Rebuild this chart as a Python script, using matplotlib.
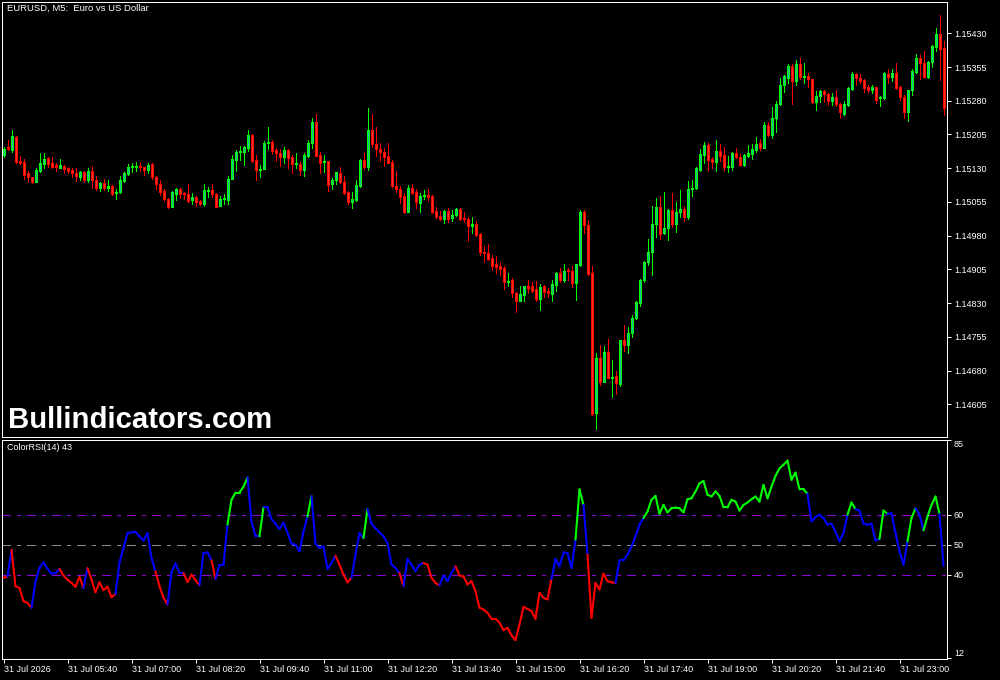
import numpy as np
import matplotlib
matplotlib.use("Agg")
import matplotlib.pyplot as plt
from matplotlib.collections import LineCollection

# ---------------- data (EURUSD M5, 31 Jul, bars from 04:20) ----------------
# prices given in points relative to 1.15000 (1 point = 0.00001)
base_price = 1.15000
opens = [159,178,170,200,146,143,119,110,100,123,139,152,141,137,131,136,131,126,120,111,
         122,104,124,103,87,98,87,90,74,76,102,117,132,133,136,132,127,139,111,95,
         79,62,44,73,84,74,73,59,67,57,50,79,82,72,47,61,59,106,148,165,
         165,176,204,148,127,128,187,188,170,163,156,170,156,139,139,126,158,185,232,159,
         143,146,94,104,119,100,76,54,59,91,148,133,215,184,173,165,157,144,90,84,
         69,33,87,76,53,69,70,68,35,24,17,35,19,27,39,19,16,2,7,-17,
         -56,-59,-69,-83,-87,-93,-122,-119,-147,-165,-152,-132,-133,-139,-161,-133,-142,-150,-130,-104,
         -119,-96,-99,-125,-85,32,4,-104,-415,-291,-345,-279,-336,-332,-350,-252,-263,-237,-204,-169,
         -119,-79,-57,5,44,-15,-2,37,6,32,39,22,83,85,127,159,182,150,144,168,
         159,133,133,163,154,137,158,162,170,185,176,226,204,241,272,315,331,357,324,361,
         332,335,328,278,291,302,295,280,288,272,251,271,306,339,331,326,311,304,310,287,
         287,339,332,342,311,289,256,304,345,376,365,332,367,400,428,397]
highs = [178,193,215,202,157,150,124,111,130,163,163,154,154,142,150,138,133,130,130,123,
         123,130,135,113,100,107,104,93,83,113,122,139,141,143,143,133,141,142,113,104,
         84,64,79,85,85,78,95,74,69,59,95,89,96,74,68,73,113,159,170,179,
         179,216,205,159,137,190,222,193,174,172,178,172,159,163,143,163,193,242,250,165,
         159,146,109,122,132,113,79,76,104,150,163,265,250,222,185,174,185,148,124,91,
         74,93,95,84,74,82,84,70,44,35,37,42,37,42,41,32,21,21,13,-15,
         -44,-39,-63,-65,-79,-87,-104,-115,-145,-132,-131,-119,-124,-121,-128,-130,-137,-119,-100,-93,
         -82,-91,-87,-82,37,37,15,-87,-282,-263,-265,-250,-297,-321,-251,-219,-222,-196,-165,-117,
         -76,-27,46,63,68,76,39,74,54,82,47,102,104,132,172,188,185,154,193,184,
         178,158,165,176,162,162,182,184,200,194,232,232,267,280,331,337,361,362,371,374,
         363,341,329,302,305,305,297,297,304,274,279,311,345,341,339,328,315,315,311,291,
         343,350,351,363,313,293,305,351,384,382,391,369,403,441,471,413]
lows = [156,170,165,142,139,107,100,98,99,122,131,133,131,124,130,120,120,111,102,104,
        100,100,87,82,80,82,80,70,61,74,100,115,122,124,124,115,119,107,83,70,
        56,42,44,59,63,61,54,50,47,48,47,67,67,43,46,50,50,106,124,148,
        137,169,143,104,111,128,173,162,146,136,142,131,120,131,115,113,154,176,157,119,
        122,80,83,94,98,73,50,42,58,89,128,126,178,158,146,136,141,89,78,52,
        30,32,73,42,33,61,58,30,20,15,9,11,13,24,15,11,-31,-15,-20,-62,
        -78,-74,-96,-104,-107,-139,-132,-156,-189,-165,-165,-147,-145,-165,-185,-156,-157,-165,-142,-122,
        -124,-119,-135,-163,-87,-15,-107,-419,-450,-352,-346,-337,-378,-371,-354,-276,-280,-245,-205,-176,
        -122,-85,-107,-24,-27,-17,-30,0,-11,22,13,18,68,83,124,141,126,131,124,146,
        126,122,126,152,136,136,156,150,165,170,174,202,198,211,271,300,319,273,316,328,
        319,310,276,259,278,278,271,271,269,242,248,269,305,316,319,300,299,298,276,268,
        285,320,324,306,282,242,235,293,342,328,330,331,356,391,326,248]
closes = [173,172,202,144,141,115,111,100,126,141,150,139,133,133,137,129,124,119,113,122,
          104,124,104,85,98,87,91,73,78,104,120,133,136,136,132,126,137,111,94,78,
          61,44,76,84,72,72,57,67,54,51,82,82,72,44,61,64,107,150,167,167,
          178,204,146,126,128,185,188,169,163,156,170,153,139,140,127,159,185,232,158,142,
          144,93,104,121,100,74,54,61,93,148,133,215,183,173,165,156,142,91,83,67,
          33,87,74,54,69,70,67,33,22,17,35,17,27,39,17,17,2,7,-19,-57,
          -59,-72,-87,-89,-95,-122,-120,-148,-165,-150,-132,-136,-142,-161,-135,-145,-148,-128,-102,-119,
          -99,-99,-125,-83,32,4,-105,-417,-293,-345,-279,-336,-334,-348,-252,-263,-237,-202,-168,-119,
          -78,-57,5,44,-17,-2,37,6,32,39,22,84,87,130,162,182,148,144,168,158,
          133,136,163,154,137,159,163,173,184,176,226,204,242,272,316,334,357,325,361,332,
          334,328,278,291,302,294,280,288,272,254,272,309,339,330,324,309,304,310,282,289,
          342,332,341,309,288,256,304,346,374,363,332,367,402,428,395,265]

# ColorRSI(14) values per bar
rsi = [38.9,39.4,48.3,36.1,35.5,31.1,30.5,28.9,37.8,42.2,44.1,41.9,40.3,40.5,41.9,39.7,38.3,37.2,35.9,39.2,
       35.5,42.2,38.3,34.1,37.4,34.8,35.9,32.4,33.5,44.1,48.9,53.9,54.1,54.1,52.8,51.4,53.9,45.5,41.1,36.1,
       32.2,30.0,40.8,43.7,40.5,40.5,37.5,40.0,38.1,36.4,47.2,47.4,44.8,38.5,43.3,43.3,56.7,65.0,67.4,67.4,
       69.4,72.5,57.8,52.8,52.8,62.5,62.5,58.5,57.0,55.2,57.4,53.9,50.3,50.0,47.8,54.4,59.4,66.3,50.3,48.9,
       49.4,41.9,43.9,46.3,43.3,40.0,37.4,38.9,46.7,53.9,52.2,61.9,57.0,55.5,54.1,52.8,50.5,43.3,42.2,40.5,
       36.1,45.2,43.3,41.1,43.3,43.9,43.3,38.9,37.2,36.4,39.7,37.8,40.5,42.8,39.7,39.4,36.7,37.8,34.4,28.9,
       28.3,27.2,25.2,25.2,23.9,21.4,22.2,19.7,18.1,23.3,29.2,28.5,27.8,25.2,33.9,32.2,31.7,38.5,45.2,42.8,
       47.4,47.2,42.2,51.7,68.5,63.3,46.7,25.5,37.2,35.0,40.3,37.8,37.4,37.2,44.8,44.8,46.7,49.4,52.8,56.7,
       58.9,61.1,65.0,66.3,60.3,63.3,60.8,62.2,62.4,62.2,60.8,65.2,65.5,67.8,70.5,71.3,66.7,66.1,67.8,66.3,
       62.5,62.5,65.0,64.4,61.4,63.3,64.1,65.2,66.1,64.4,70.0,65.5,69.4,73.0,75.5,76.7,78.1,71.7,74.1,68.5,
       68.5,67.0,57.8,59.2,60.0,58.9,56.7,57.0,54.4,51.1,53.9,60.0,64.1,61.9,61.4,57.0,56.7,57.0,51.4,51.9,
       61.4,60.3,60.5,53.9,47.8,43.3,51.1,58.9,62.2,60.0,54.8,59.4,63.3,66.1,60.3,42.9]

# colour index buffer of the indicator, as runs (code, number of bars)
rsi_color_runs = [('r',2),('b',1),('r',5),('b',7),('r',6),('b',1),('r',7),('b',10),('r',3),('b',4),
                  ('r',4),('b',3),('r',1),('b',3),('g',5),('b',3),('g',1),('b',11),('g',1),('b',6),
                  ('r',4),('b',3),('g',1),('b',8),('r',1),('b',5),('r',4),('b',4),('r',24),('b',6),
                  ('g',2),('b',1),('r',7),('b',7),('g',41),('b',10),('g',2),('b',6),('g',2),('b',5),
                  ('g',2),('b',2),('g',4),('b',1)]

rsi_levels = [40, 50, 60]
rsi_ticks = [12, 40, 50, 60, 85]
price_ticks = [1.14605, 1.14680, 1.14755, 1.14830, 1.14905, 1.14980, 1.15055,
               1.15130, 1.15205, 1.15280, 1.15355, 1.15430]
time_tick_bars = [0, 16, 32, 48, 64, 80, 96, 112, 128, 144, 160, 176, 192, 208, 224]
time_tick_labels = ["31 Jul 2026", "31 Jul 05:40", "31 Jul 07:00", "31 Jul 08:20",
                    "31 Jul 09:40", "31 Jul 11:00", "31 Jul 12:20", "31 Jul 13:40",
                    "31 Jul 15:00", "31 Jul 16:20", "31 Jul 17:40", "31 Jul 19:00",
                    "31 Jul 20:20", "31 Jul 21:40", "31 Jul 23:00"]
title_text = "EURUSD, M5:  Euro vs US Dollar"
rsi_title = "ColorRSI(14) 43"
watermark = "Bullindicators.com"

# ---------------- figure ----------------
W, H = 1000, 680
fig = plt.figure(figsize=(W / 100, H / 100), dpi=100, facecolor="black")
FONT = ["Liberation Sans", "DejaVu Sans"]
plt.rcParams["font.family"] = FONT

def px_rect(x0, y0, x1, y1):
    return [x0 / W, 1 - y1 / H, (x1 - x0) / W, (y1 - y0) / H]

P_TOP, P_BOT, R_TOP, R_BOT = 2, 437, 440, 659
axp = fig.add_axes(px_rect(2, P_TOP, 947, P_BOT))
axr = fig.add_axes(px_rect(2, R_TOP, 947, R_BOT))

o = base_price + np.array(opens) / 1e5
h = base_price + np.array(highs) / 1e5
l = base_price + np.array(lows) / 1e5
c = base_price + np.array(closes) / 1e5
n = len(o)
x = np.arange(n)

PT = 0.72  # one pixel in points at 100 dpi
for ax in (axp, axr):
    ax.set_facecolor("black")
    for s in ax.spines.values():
        s.set_color("white")
        s.set_linewidth(PT)
    ax.set_xlim(-0.375, n - 0.125)
    ax.yaxis.tick_right()
    ax.tick_params(axis="y", colors="white", direction="out", length=3, width=PT,
                   pad=2, labelsize=6.5, labelcolor="white")

# candles
ymin, ymax = 1.145323, 1.154996
axp.set_ylim(ymin, ymax)
px = (ymax - ymin) / (P_BOT - P_TOP)  # price per pixel
bull = c >= o
edge = np.where(bull, "#00FF00", "#FF0000")
fill = np.where(bull, "#20B4A6", "#EE3820")
bottom = np.minimum(o, c)
top = np.maximum(o, c)
top = np.where(top - bottom < px, bottom + px, top)
axp.vlines(x, l, h, colors=edge, linewidth=PT, antialiased=False)
axp.vlines(x, bottom, top, colors=edge, linewidth=3 * PT, antialiased=False,
           capstyle="butt")
inner = (top - bottom) > 2.5 * px
axp.vlines(x[inner], bottom[inner] + px, top[inner] - px, colors=fill[inner],
           linewidth=PT, antialiased=False, capstyle="butt")

axp.set_yticks(price_ticks)
axp.set_yticklabels([f"{p:.5f}" for p in price_ticks])
axp.set_xticks([])

# RSI
colors_map = {"g": "#00FF00", "b": "#0000FF", "r": "#FF0000"}
codes = []
for code, cnt in rsi_color_runs:
    codes += [code] * cnt
rv = np.array(rsi)
segs = [[(x[i - 1], rv[i - 1]), (x[i], rv[i])] for i in range(1, n)]
seg_cols = [colors_map[codes[i]] for i in range(1, n)]
lc = LineCollection(segs, colors=seg_cols, linewidths=1.5, capstyle="round", zorder=3)
axr.add_collection(lc)

for lv in rsi_levels:
    col = "#8C8C8C" if lv == 50 else "#9400DC"
    axr.axhline(lv, color=col, linewidth=PT, linestyle=(0, (9, 6, 3, 6)),
                antialiased=False, zorder=1)

axr.set_ylim(11.77, 84.77)
axr.set_yticks(rsi_ticks)
axr.set_yticklabels([str(t) for t in rsi_ticks])
for lbl, t in zip(axr.get_yticklabels(), rsi_ticks):
    if t == 85:
        lbl.set_verticalalignment("top")
    elif t == 12:
        lbl.set_verticalalignment("bottom")

axr.set_xticks(time_tick_bars)
axr.set_xticklabels(time_tick_labels, ha="left")
axr.tick_params(axis="x", colors="white", direction="out", length=3, width=PT,
                pad=1, labelsize=6.5, labelcolor="white")

# texts
fig.text(7 / W, 1 - 4 / H, title_text, color="white", fontsize=6.8, va="top", ha="left")
fig.text(7 / W, 1 - 443 / H, rsi_title, color="white", fontsize=6.5, va="top", ha="left")
fig.text(8 / W, 1 - 428 / H, watermark, color="white", fontsize=21.2, fontweight="bold",
         va="baseline", ha="left")

fig.savefig("out.png", dpi=100, facecolor="black")
